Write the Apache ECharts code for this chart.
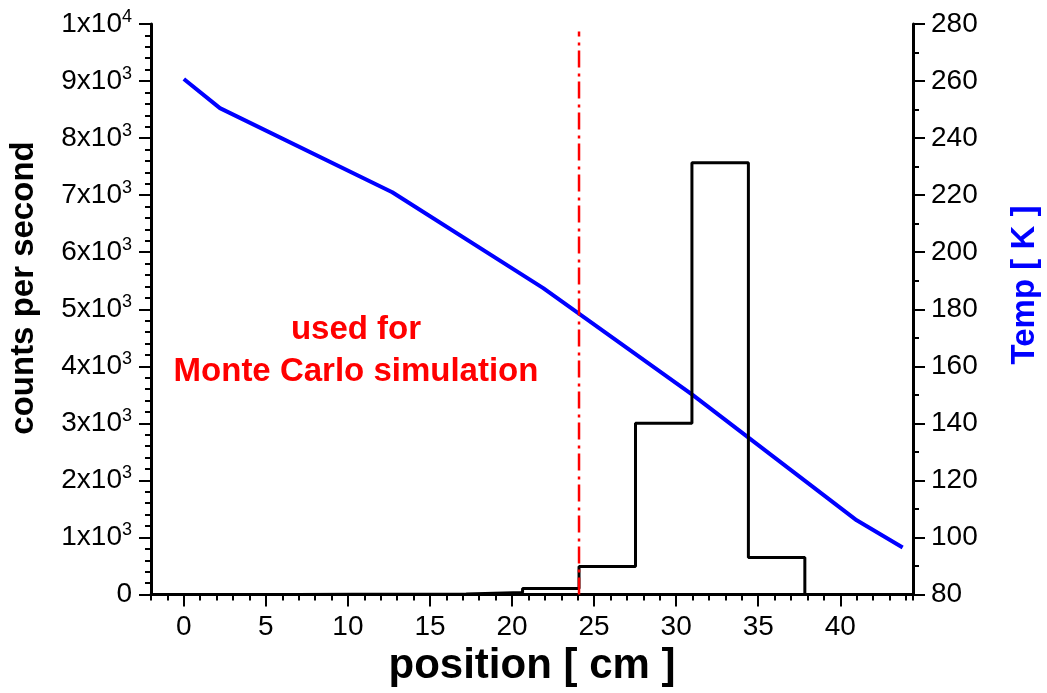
<!DOCTYPE html>
<html>
<head>
<meta charset="utf-8">
<script src="https://cdn.jsdelivr.net/npm/echarts@6/dist/echarts.min.js"></script>
<style>
html, body { margin: 0; padding: 0; background: #fff; }
#main { width: 1047px; height: 693px; }
</style>
</head>
<body>
<div id="main"></div>
<script>
// histogram bin edges [cm] and counts per second in each bin
var binEdges = [0, 3.44, 6.88, 10.32, 13.76, 17.2, 20.64, 24.08, 27.52, 30.96, 34.4, 37.84];
var binCounts = [0, 0, 5, 5, 10, 35, 105, 490, 3000, 7570, 650];

// temperature profile
var tempPos = [0, 2.2, 12.7, 21.9, 31.0, 41.0, 43.8];
var tempK = [260.7, 250.5, 221, 187.4, 150, 106, 96.5];

// cut used for the simulation
var cutPos = 24.08;
var cutTop = 9870;

var xTicks = [0, 5, 10, 15, 20, 25, 30, 35, 40];

var FONT = '"Liberation Sans", Arial, sans-serif';

var histData = [];
for (var i = 0; i < binCounts.length; i++) {
	histData.push([binEdges[i], binCounts[i]]);
}
histData.push([binEdges[binEdges.length - 1], 0]);

var tempData = [];
for (var j = 0; j < tempPos.length; j++) {
	tempData.push([tempPos[j], tempK[j]]);
}

var myChart = echarts.init(document.getElementById('main'));

var gridBox = { left: 151, right: 134, top: 24, bottom: 98.5 };
var tickStyle = { color: '#000', width: 2 };

option = {
	animation: false,
	backgroundColor: '#fff',
	grid: [
		{ left: gridBox.left, right: gridBox.right, top: gridBox.top, bottom: gridBox.bottom },
		{ left: gridBox.left, right: gridBox.right, top: gridBox.top, bottom: gridBox.bottom }
	],
	xAxis: [
		{
			type: 'value',
			gridIndex: 0,
			min: -2,
			max: 44.43,
			interval: 1,
			axisLine: { onZero: false, lineStyle: { color: '#000', width: 3 } },
			axisTick: { inside: false, length: 6, lineStyle: tickStyle },
			axisLabel: { show: false },
			splitLine: { show: false }
		},
		{
			type: 'value',
			gridIndex: 1,
			min: -2,
			max: 44.43,
			axisLine: { show: false, onZero: false },
			axisTick: { show: true, inside: false, length: 12, customValues: xTicks, lineStyle: tickStyle },
			axisLabel: {
				customValues: xTicks,
				fontSize: 28,
				fontFamily: FONT,
				color: '#000',
				margin: 19
			},
			splitLine: { show: false }
		}
	],
	yAxis: [
		{
			type: 'value',
			gridIndex: 0,
			position: 'left',
			min: 0,
			max: 10000,
			interval: 1000,
			axisLine: { show: true, onZero: false, lineStyle: { color: '#000', width: 3 } },
			axisTick: { show: true, inside: false, length: 12, lineStyle: tickStyle },
			minorTick: { show: true, splitNumber: 5, length: 6, lineStyle: tickStyle },
			splitLine: { show: false },
			axisLabel: {
				margin: 19,
				color: '#000',
				formatter: function (v) {
					if (v === 0) return '{b|0}';
					if (v >= 10000) return '{b|' + (v / 10000) + 'x10}{s|4}';
					return '{b|' + (v / 1000) + 'x10}{s|3}';
				},
				rich: {
					b: { fontSize: 28, fontFamily: FONT, color: '#000', lineHeight: 32 },
					s: { fontSize: 18, fontFamily: FONT, color: '#000', lineHeight: 18, verticalAlign: 'top' }
				}
			}
		},
		{
			type: 'value',
			gridIndex: 0,
			position: 'right',
			min: 80,
			max: 280,
			interval: 20,
			axisLine: { show: true, onZero: false, lineStyle: { color: '#000', width: 3 } },
			axisTick: { show: true, inside: false, length: 12, lineStyle: tickStyle },
			minorTick: { show: true, splitNumber: 2, length: 6, lineStyle: tickStyle },
			splitLine: { show: false },
			axisLabel: { margin: 18, fontSize: 28, fontFamily: FONT, color: '#000' }
		},
		{
			type: 'value',
			gridIndex: 1,
			show: false,
			min: 0,
			max: 1
		}
	],
	series: [
		{
			name: 'Temp',
			type: 'line',
			xAxisIndex: 0,
			yAxisIndex: 1,
			symbol: 'none',
			lineStyle: { color: '#0000ff', width: 4 },
			data: tempData,
			z: 2
		},
		{
			name: 'counts',
			type: 'line',
			step: 'end',
			xAxisIndex: 0,
			yAxisIndex: 0,
			symbol: 'none',
			lineStyle: { color: '#000', width: 3 },
			data: histData,
			z: 3
		},
		{
			name: 'cut',
			type: 'line',
			xAxisIndex: 0,
			yAxisIndex: 0,
			symbol: 'none',
			lineStyle: { color: '#ff0000', width: 2.5, type: [17, 5, 3, 6] },
			data: [[cutPos, 0], [cutPos, cutTop]],
			z: 4
		}
	],
	graphic: [
		{
			type: 'text',
			x: 24, y: 288,
			rotation: Math.PI / 2,
			style: {
				text: 'counts per second',
				font: 'bold 33px ' + FONT,
				fill: '#000',
				textAlign: 'center',
				textVerticalAlign: 'middle'
			}
		},
		{
			type: 'text',
			x: 1025, y: 285,
			rotation: Math.PI / 2,
			style: {
				text: 'Temp [ K ]',
				font: 'bold 33px ' + FONT,
				fill: '#0000ff',
				textAlign: 'center',
				textVerticalAlign: 'middle'
			}
		},
		{
			type: 'text',
			x: 532, y: 666,
			style: {
				text: 'position [ cm ]',
				font: 'bold 42px ' + FONT,
				fill: '#000',
				textAlign: 'center',
				textVerticalAlign: 'middle'
			}
		},
		{
			type: 'text',
			x: 356, y: 351,
			style: {
				text: 'used for\nMonte Carlo simulation',
				font: 'bold 33px ' + FONT,
				lineHeight: 42,
				fill: '#ff0000',
				textAlign: 'center',
				textVerticalAlign: 'middle'
			}
		}
	]
};
myChart.setOption(option);
</script>
</body>
</html>
